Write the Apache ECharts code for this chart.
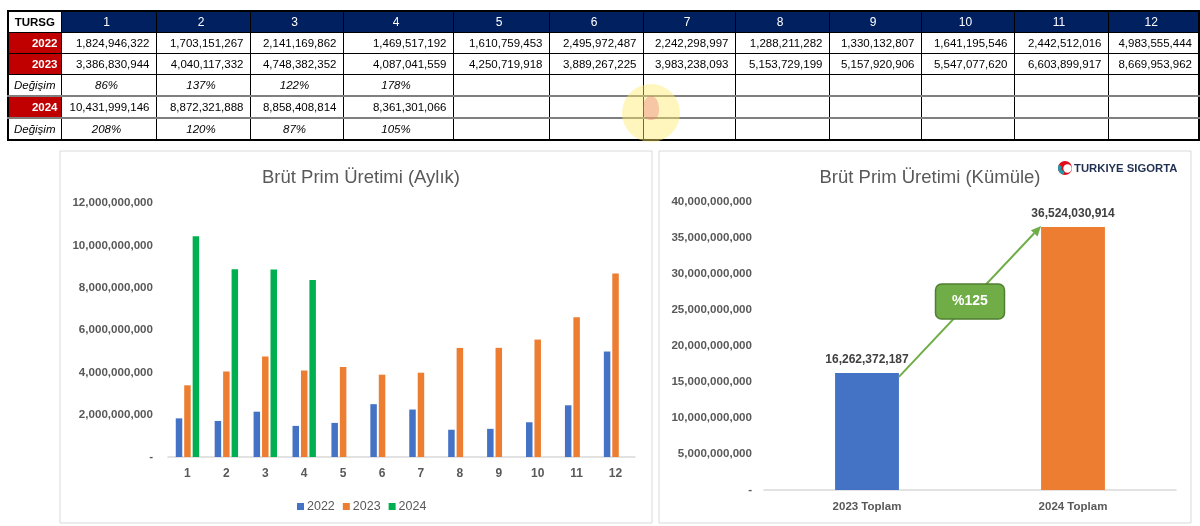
<!DOCTYPE html>
<html>
<head>
<meta charset="utf-8">
<script src="https://cdn.jsdelivr.net/npm/echarts@6/dist/echarts.min.js"></script>
<style>
  html, body { margin: 0; padding: 0; background: #fff; }
  #wrap { position: relative; width: 1200px; height: 526px; overflow: hidden; }
  #chart { position: absolute; left: 0; top: 0; width: 1200px; height: 526px; }
  #tbl { position: absolute; left: 7px; top: 10px; width: 1191px; border-collapse: collapse; table-layout: fixed;
         font-family: "Liberation Sans", Arial, sans-serif; font-size: 11.5px; color: #000; border: 2px solid #000; }
  #tbl td { border: 1px solid #000; padding: 0 6px 0 2px; height: 20px; line-height: 18px; white-space: nowrap; overflow: hidden; }
  #tbl td.num { text-align: right; }
  #tbl td.hd { background: #002060; color: #fff; text-align: center; font-size: 12px; }
  #tbl td.corner { background: #fff; font-weight: bold; text-align: center; padding: 0; }
  #tbl td.yr { background: #C00000; color: #fff; font-weight: bold; text-align: right; padding-right: 3px; }
  #tbl td.chg { font-style: italic; text-align: center; }
  #tbl td.lab { font-style: italic; text-align: center; padding: 0; }
  #tbl tr.g td { border-top: 2px solid #7f7f7f; }
  #wm { position: absolute; left: 622px; top: 84px; width: 58px; height: 58px; border-radius: 50%;
        background: rgba(255, 236, 110, 0.45); pointer-events: none; }
  #wm span { position: absolute; left: 21px; top: 12px; width: 16px; height: 24px; border-radius: 50% 50% 40% 40%;
             background: rgba(230, 110, 120, 0.35); }
</style>
</head>
<body>
<div id="wrap">
  <div id="chart"></div>
  <table id="tbl">
    <colgroup id="cols"></colgroup>
    <tbody id="tb"></tbody>
  </table>
  <div id="wm"><span></span></div>
</div>
<script>
// ---------- data ----------
const months = ['1','2','3','4','5','6','7','8','9','10','11','12'];
const v2022 = [1824946322, 1703151267, 2141169862, 1469517192, 1610759453, 2495972487, 2242298997, 1288211282, 1330132807, 1641195546, 2442512016, 4983555444];
const v2023 = [3386830944, 4040117332, 4748382352, 4087041559, 4250719918, 3889267225, 3983238093, 5153729199, 5157920906, 5547077620, 6603899917, 8669953962];
const v2024 = [10431999146, 8872321888, 8858408814, 8361301066];
const chg2023 = ['86%', '137%', '122%', '178%'];
const chg2024 = ['208%', '120%', '87%', '105%'];
const seriesNames = ['2022', '2023', '2024'];
const totalCats = ['2023 Toplam', '2024 Toplam'];
const totals = [16262372187, 36524030914];
const leftTicks = { min: 0, max: 12000000000, interval: 2000000000 };
const rightTicks = { min: 0, max: 40000000000, interval: 5000000000 };
const titleLeft = 'Brüt Prim Üretimi (Aylık)';
const titleRight = 'Brüt Prim Üretimi (Kümüle)';
const tableCorner = 'TURSG';
const changeLabel = 'Değişim';
const logoText = 'TURKIYE SIGORTA';

// ---------- table ----------
const colW = [53, 95, 94, 93, 110, 96, 94, 92, 94, 92, 93, 94, 91];
const fmt = v => v.toLocaleString('en-US');
(function buildTable() {
  const cg = document.getElementById('cols');
  colW.forEach(w => { const c = document.createElement('col'); c.style.width = w + 'px'; cg.appendChild(c); });
  const tb = document.getElementById('tb');
  function row(cells, cls) {
    const tr = document.createElement('tr');
    if (cls) tr.className = cls;
    cells.forEach(([txt, c]) => { const td = document.createElement('td'); td.textContent = txt; if (c) td.className = c; tr.appendChild(td); });
    tb.appendChild(tr);
  }
  row([[tableCorner, 'corner']].concat(months.map(m => [m, 'hd'])));
  row([['2022', 'yr']].concat(months.map((m, i) => [v2022[i] != null ? fmt(v2022[i]) : '', 'num'])));
  row([['2023', 'yr']].concat(months.map((m, i) => [v2023[i] != null ? fmt(v2023[i]) : '', 'num'])));
  row([[changeLabel, 'lab']].concat(months.map((m, i) => [chg2023[i] || '', 'chg'])));
  row([['2024', 'yr']].concat(months.map((m, i) => [v2024[i] != null ? fmt(v2024[i]) : '', 'num'])), 'g');
  row([[changeLabel, 'lab']].concat(months.map((m, i) => [chg2024[i] || '', 'chg'])), 'g');
})();

// ---------- charts ----------
const FONT = 'Liberation Sans';
const GRAY = '#595959';
const colors = ['#4472C4', '#ED7D31', '#00B050'];
const axisLabelFmt = v => v === 0 ? '-' : fmt(v);

const chart = echarts.init(document.getElementById('chart'), null, { renderer: 'canvas' });

const option = {
  animation: false,
  textStyle: { fontFamily: FONT },
  title: [
    { text: titleLeft, left: 356, top: 163, textAlign: 'center',
      textStyle: { fontFamily: FONT, fontSize: 18.5, fontWeight: 'normal', color: GRAY } },
    { text: titleRight, left: 925, top: 163, textAlign: 'center',
      textStyle: { fontFamily: FONT, fontSize: 18.5, fontWeight: 'normal', color: GRAY } }
  ],
  legend: {
    data: seriesNames, left: 292, top: 495, icon: 'rect', itemWidth: 7, itemHeight: 7, itemGap: 8,
    textStyle: { fontFamily: FONT, fontSize: 12.5, color: GRAY, padding: [0, 0, 0, -2] }
  },
  grid: [
    { left: 168, top: 203, width: 467, height: 254 },
    { left: 764, top: 202, width: 412, height: 288 }
  ],
  xAxis: [
    { type: 'category', gridIndex: 0, data: months,
      axisLine: { lineStyle: { color: '#D9D9D9', width: 1.5 } }, axisTick: { show: false },
      axisLabel: { fontFamily: FONT, fontSize: 12, fontWeight: 'bold', color: GRAY, margin: 11 } },
    { type: 'category', gridIndex: 1, data: totalCats,
      axisLine: { lineStyle: { color: '#D9D9D9', width: 1.5 } }, axisTick: { show: false },
      axisLabel: { fontFamily: FONT, fontSize: 11.5, fontWeight: 'bold', color: GRAY, margin: 11 } }
  ],
  yAxis: [
    { type: 'value', gridIndex: 0, min: leftTicks.min, max: leftTicks.max, interval: leftTicks.interval,
      splitLine: { show: false }, axisLine: { show: false }, axisTick: { show: false },
      axisLabel: { fontFamily: FONT, fontSize: 11.6, fontWeight: 'bold', color: GRAY, margin: 15, formatter: axisLabelFmt } },
    { type: 'value', gridIndex: 1, min: rightTicks.min, max: rightTicks.max, interval: rightTicks.interval,
      splitLine: { show: false }, axisLine: { show: false }, axisTick: { show: false },
      axisLabel: { fontFamily: FONT, fontSize: 11.6, fontWeight: 'bold', color: GRAY, margin: 12, formatter: axisLabelFmt } }
  ],
  series: [
    { name: seriesNames[0], type: 'bar', xAxisIndex: 0, yAxisIndex: 0, data: v2022, barWidth: 6.5, barGap: '30%',
      itemStyle: { color: colors[0] } },
    { name: seriesNames[1], type: 'bar', xAxisIndex: 0, yAxisIndex: 0, data: v2023, barWidth: 6.5, barGap: '30%',
      itemStyle: { color: colors[1] } },
    { name: seriesNames[2], type: 'bar', xAxisIndex: 0, yAxisIndex: 0, data: v2024, barWidth: 6.5, barGap: '30%',
      itemStyle: { color: colors[2] } },
    { name: 'totals', type: 'bar', xAxisIndex: 1, yAxisIndex: 1, barWidth: '31%',
      data: totals.map((v, i) => ({ value: v, itemStyle: { color: colors[i === 0 ? 0 : 1] } })),
      label: { show: true, position: 'top', distance: 7, formatter: p => fmt(p.value),
               fontFamily: FONT, fontSize: 12, fontWeight: 'bold', color: '#404040' } },
    { name: 'growth', type: 'custom', xAxisIndex: 1, yAxisIndex: 1, z: 10,
      data: [[0, totals[0], 1, totals[1]]],
      encode: { x: 0, y: 1 },
      renderItem: function (params, api) {
        const bw = api.size([1, 0])[0] * 0.31;
        const p0 = api.coord([api.value(0), api.value(1)]);
        const p1 = api.coord([api.value(2), api.value(3)]);
        const sx = p0[0] + bw / 2, sy = p0[1] + 4;
        const ex = p1[0] - bw / 2, ey = p1[1] - 1;
        const ang = Math.atan2(ey - sy, ex - sx);
        const L = 10, W = 4.5;
        const bx = ex - L * Math.cos(ang), by = ey - L * Math.sin(ang);
        const nx = -Math.sin(ang), ny = Math.cos(ang);
        const mx = (sx + ex) / 2, my = (sy + ey) / 2;
        const pct = '%' + Math.round((api.value(3) / api.value(1) - 1) * 100);
        const green = '#70AD47';
        return {
          type: 'group',
          children: [
            { type: 'line', shape: { x1: sx, y1: sy, x2: bx, y2: by }, style: { stroke: green, lineWidth: 2 } },
            { type: 'polygon', shape: { points: [[ex, ey], [bx + nx * W, by + ny * W], [bx - nx * W, by - ny * W]] },
              style: { fill: green } },
            { type: 'rect', shape: { x: mx - 34.5, y: my - 17.5, width: 69, height: 35, r: 6 },
              style: { fill: green, stroke: '#507E32', lineWidth: 1.5 } },
            { type: 'text', style: { x: mx, y: my, text: pct, fill: '#fff', font: 'bold 14px "Liberation Sans"',
                                     align: 'center', verticalAlign: 'middle' } }
          ]
        };
      }
    }
  ],
  graphic: [
    { type: 'rect', shape: { x: 60, y: 151, width: 592, height: 372 }, style: { fill: 'none', stroke: '#D9D9D9', lineWidth: 1 }, z: -1 },
    { type: 'rect', shape: { x: 659, y: 151, width: 532, height: 372 }, style: { fill: 'none', stroke: '#D9D9D9', lineWidth: 1 }, z: -1 },
    { type: 'group', left: 1058, top: 161, children: [
      { type: 'circle', shape: { cx: 7, cy: 7, r: 7 }, style: { fill: '#E30A17' } },
      { type: 'circle', shape: { cx: 9.5, cy: 7.5, r: 4.2 }, style: { fill: '#fff' } },
      { type: 'sector', shape: { cx: 7, cy: 7, r: 7, r0: 3.5, startAngle: Math.PI * 0.55, endAngle: Math.PI * 1.15 }, style: { fill: '#1A9BA8' } },
      { type: 'text', style: { x: 16, y: 7.5, text: logoText, fill: '#1F3052', font: 'bold 11.3px "Liberation Sans"', verticalAlign: 'middle' } }
    ] }
  ]
};
chart.setOption(option);
</script>
</body>
</html>
